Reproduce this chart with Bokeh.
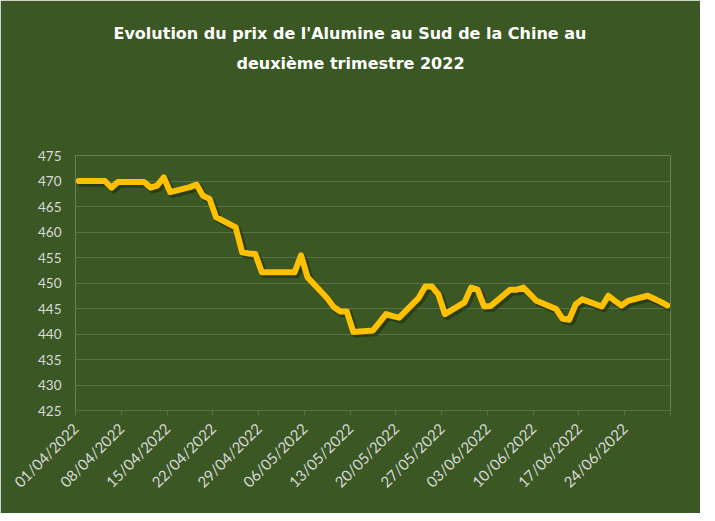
import math
import pandas as pd
from bokeh.plotting import figure
from bokeh.models import Range1d, FixedTicker, ColumnDataSource, Title
from bokeh.transform import dodge
from bokeh.embed import file_html
from bokeh.resources import INLINE

# ---- data ----
dates = [
    "2022-04-01", "2022-04-04", "2022-04-05", "2022-04-06", "2022-04-07", "2022-04-08",
    "2022-04-11", "2022-04-12", "2022-04-13", "2022-04-14", "2022-04-15",
    "2022-04-18", "2022-04-19", "2022-04-20", "2022-04-21", "2022-04-22",
    "2022-04-25", "2022-04-26", "2022-04-27", "2022-04-28", "2022-04-29",
    "2022-05-02", "2022-05-03", "2022-05-04", "2022-05-05", "2022-05-06",
    "2022-05-09", "2022-05-10", "2022-05-11", "2022-05-12", "2022-05-13",
    "2022-05-16", "2022-05-17", "2022-05-18", "2022-05-19", "2022-05-20",
    "2022-05-23", "2022-05-24", "2022-05-25", "2022-05-26", "2022-05-27",
    "2022-05-30", "2022-05-31", "2022-06-01", "2022-06-02", "2022-06-03",
    "2022-06-06", "2022-06-07", "2022-06-08", "2022-06-09", "2022-06-10",
    "2022-06-13", "2022-06-14", "2022-06-15", "2022-06-16", "2022-06-17",
    "2022-06-20", "2022-06-21", "2022-06-22", "2022-06-23", "2022-06-24",
    "2022-06-27", "2022-06-28", "2022-06-29", "2022-06-30",
]
prices = [
    470.0, 470.0, 470.0, 468.7, 469.8, 469.8,
    469.8, 468.7, 469.1, 470.7, 467.8,
    468.8, 469.3, 467.1, 466.5, 462.9,
    460.9, 456.0, 455.8, 455.7, 452.1,
    452.1, 452.1, 452.1, 455.4, 451.1,
    447.0, 445.3, 444.4, 444.4, 440.4,
    440.7, 442.3, 443.9, 443.5, 443.2,
    447.1, 449.3, 449.3, 447.8, 443.9,
    446.2, 449.1, 448.7, 445.4, 445.5,
    448.7, 448.7, 449.1, 447.8, 446.5,
    444.9, 443.0, 442.8, 445.8, 446.8,
    445.4, 447.5, 446.5, 445.6, 446.5,
    447.5, 446.9, 446.3, 445.6,
]
tick_labels = [
    "01/04/2022", "08/04/2022", "15/04/2022", "22/04/2022", "29/04/2022",
    "06/05/2022", "13/05/2022", "20/05/2022", "27/05/2022", "03/06/2022",
    "10/06/2022", "17/06/2022", "24/06/2022",
]
axis_end_date = "01/07/2022"
y_ticks = [425, 430, 435, 440, 445, 450, 455, 460, 465, 470, 475]

title_line1 = "Evolution  du prix de l'Alumine  au Sud de la Chine au"
title_line2 = "deuxième  trimestre 2022"

# ---- derived positions (day index; each day is a one-unit slot) ----
start = pd.Timestamp("2022-04-01")
x_pos = [(pd.Timestamp(d) - start).days + 0.5 for d in dates]
tick_pos = [(pd.to_datetime(t, dayfirst=True) - start).days for t in tick_labels]
end_pos = (pd.to_datetime(axis_end_date, dayfirst=True) - start).days
all_ticks = tick_pos + [end_pos]
overrides = {tp: lbl for tp, lbl in zip(tick_pos, tick_labels)}
overrides[end_pos] = ""

src = ColumnDataSource(dict(x=x_pos, y=prices))

BG = "#3a5724"
GRID = "#587245"
LABEL = "#d9d9d9"

p = figure(
    width=700, height=513,
    x_range=Range1d(0, end_pos), y_range=Range1d(min(y_ticks), max(y_ticks)),
    output_backend="svg", toolbar_location=None,
    background_fill_color=BG, border_fill_color=BG,
    outline_line_color=None,
    min_border_left=75, min_border_right=30,
    min_border_bottom=103, min_border_top=155,
    title=None,
)

# titles: first added sits nearest the plot frame; a blank spacer first
TSTYLE = dict(align="left", text_color="white", text_font="DejaVu Sans",
              text_font_style="bold", text_font_size="16px")
spacer = Title(text=" ", standoff=62, **TSTYLE)
t2 = Title(text=title_line2, standoff=0, offset=161, **TSTYLE)
t1 = Title(text=title_line1, standoff=18, offset=38, **TSTYLE)
p.add_layout(spacer, "above")
p.add_layout(t2, "above")
p.add_layout(t1, "above")

# grid
p.xgrid.visible = False
p.ygrid.ticker = FixedTicker(ticks=y_ticks)
p.ygrid.grid_line_color = GRID
p.ygrid.grid_line_width = 1

# y axis
p.yaxis.ticker = FixedTicker(ticks=y_ticks)
p.yaxis.axis_line_color = None
p.yaxis.major_tick_line_color = None
p.yaxis.minor_tick_line_color = None
p.yaxis.major_tick_out = 0
p.yaxis.major_tick_in = 0
p.yaxis.major_label_standoff = 14
p.yaxis.major_label_text_color = LABEL
p.yaxis.major_label_text_font = "Lato"
p.yaxis.major_label_text_font_size = "13.5px"

# x axis
p.xaxis.ticker = FixedTicker(ticks=all_ticks)
p.xaxis.major_label_overrides = overrides
p.xaxis.axis_line_color = GRID
p.xaxis.major_tick_line_color = GRID
p.xaxis.major_tick_out = 5
p.xaxis.major_tick_in = 0
p.xaxis.minor_tick_line_color = None
p.xaxis.major_label_orientation = math.pi / 4
p.xaxis.major_label_standoff = 10
p.xaxis.major_label_text_color = LABEL
p.xaxis.major_label_text_font = "Lato"
p.xaxis.major_label_text_font_size = "15px"

# shadow + line
p.line(x=dodge("x", 0.35), y=dodge("y", -0.45), source=src,
       line_color="#15210c", line_alpha=0.45, line_width=7,
       line_join="round", line_cap="round")
p.line(x="x", y="y", source=src, line_color="#FFC000", line_width=6,
       line_join="round", line_cap="round")

open("out.html", "w").write(file_html(p, INLINE))
